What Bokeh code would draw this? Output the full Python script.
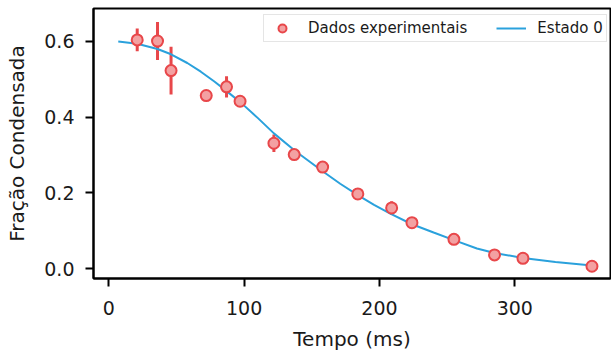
from bokeh.plotting import figure
from bokeh.models import Range1d, FixedTicker, Legend, LegendItem, PrintfTickFormatter
from bokeh.embed import file_html
from bokeh.resources import INLINE

tempo = [21, 36, 46, 72, 87, 97, 122, 137, 158, 184, 209, 224, 255, 285, 306, 357]
fracao = [0.604, 0.601, 0.523, 0.457, 0.480, 0.442, 0.331, 0.301, 0.268, 0.197,
          0.160, 0.121, 0.077, 0.036, 0.027, 0.006]
erro = [0.030, 0.050, 0.063, 0.006, 0.028, 0.008, 0.023, 0.008, 0.006, 0.008,
        0.018, 0.006, 0.006, 0.004, 0.004, 0.004]

# Fitted curve "Estado 0"
tempo_curva = [7, 21, 36, 46, 58, 68, 78, 88, 98, 110, 122, 138, 158, 171, 184,
               196, 208, 224, 240, 255, 272, 285, 306, 330, 357]
fracao_curva = [0.600, 0.594, 0.580, 0.566, 0.543, 0.520, 0.494, 0.466, 0.437,
                0.398, 0.357, 0.310, 0.257, 0.224, 0.194, 0.168, 0.145, 0.117,
                0.095, 0.075, 0.053, 0.041, 0.028, 0.017, 0.008]

x_ticks = [0, 100, 200, 300]
y_ticks = [0.0, 0.2, 0.4, 0.6]

FONT = "DejaVu Sans"
RED = "#e8474a"
PINK = "#f3a1a2"
BLUE = "#2aa1dc"

p = figure(frame_width=517, frame_height=270, output_backend="svg", toolbar_location=None,
           x_range=Range1d(-11.3, 370.7), y_range=Range1d(-0.0264, 0.687),
           min_border_left=93, min_border_right=1, min_border_top=8, min_border_bottom=76)

p.xgrid.visible = False
p.ygrid.visible = False
p.outline_line_color = "black"
p.outline_line_width = 2
p.outline_line_alpha = 1.0
p.background_fill_color = "white"
p.border_fill_color = "white"

# error bars
y0 = [f - e for f, e in zip(fracao, erro)]
y1 = [f + e for f, e in zip(fracao, erro)]
p.segment(x0=tempo, y0=y0, x1=tempo, y1=y1, line_color=RED, line_width=3)

linha = p.line(tempo_curva, fracao_curva, line_color=BLUE, line_width=2)
pontos = p.scatter(tempo, fracao, size=11, marker="circle", fill_color=PINK, fill_alpha=1.0,
                   line_color=RED, line_width=2)

for ax in (p.xaxis[0], p.yaxis[0]):
    ax.axis_line_color = "black"
    ax.axis_line_width = 2
    ax.major_tick_line_color = "black"
    ax.major_tick_line_width = 2
    ax.major_tick_out = 8
    ax.major_tick_in = 0
    ax.minor_tick_out = 0
    ax.minor_tick_in = 0
    ax.major_label_text_font = FONT
    ax.major_label_text_font_size = "19px"
    ax.major_label_text_color = "#1a1a1a"
    ax.axis_label_text_font = FONT
    ax.axis_label_text_font_size = "20px"
    ax.axis_label_text_font_style = "normal"
    ax.axis_label_text_color = "#1a1a1a"

p.xaxis.ticker = FixedTicker(ticks=x_ticks)
p.yaxis.ticker = FixedTicker(ticks=y_ticks)
p.yaxis.formatter = PrintfTickFormatter(format="%.1f")
p.xaxis.axis_label = "Tempo (ms)"
p.yaxis.axis_label = "Fração Condensada"
p.xaxis.major_label_standoff = 14
p.yaxis.major_label_standoff = 11
p.xaxis.axis_label_standoff = 9
p.yaxis.axis_label_standoff = 12

legend = Legend(items=[LegendItem(label="Dados experimentais", renderers=[pontos]),
                       LegendItem(label="Estado 0", renderers=[linha])],
                orientation="horizontal", location=(170, 236))
legend.label_text_font = FONT
legend.label_text_font_size = "15px"
legend.label_text_color = "#1a1a1a"
legend.border_line_color = "#cccccc"
legend.border_line_width = 1
legend.background_fill_color = "white"
legend.background_fill_alpha = 0.8
legend.padding = 3
legend.spacing = 29
legend.glyph_width = 30
legend.glyph_height = 20
legend.label_height = 18
legend.label_standoff = 11
legend.margin = 0
p.add_layout(legend, "center")

open("out.html", "w").write(file_html(p, INLINE))
